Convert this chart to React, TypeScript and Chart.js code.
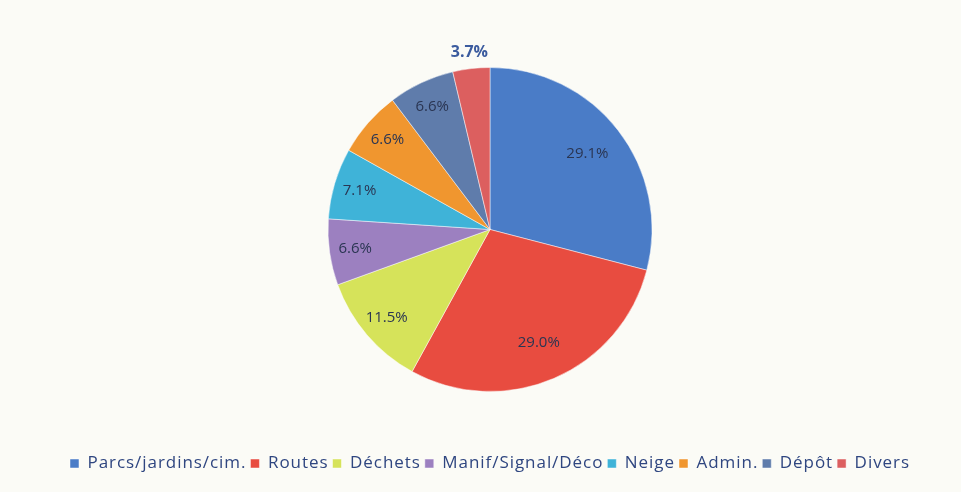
import React, { useEffect, useRef } from "react";
import { Chart, registerables } from "chart.js";

Chart.register(...registerables);

const categories = ["Parcs/jardins/cim.", "Routes", "Déchets", "Manif/Signal/Déco", "Neige", "Admin.", "Dépôt", "Divers"];
const values = [29.1, 29.0, 11.5, 6.6, 7.1, 6.6, 6.6, 3.7];
const valueLabels = ["29.1%", "29.0%", "11.5%", "6.6%", "7.1%", "6.6%", "6.6%", "3.7%"];
const colors = ["#4a7cc7", "#e84c40", "#d6e35a", "#9c80c0", "#3fb3d8", "#f0962f", "#5f7cab", "#dc5f5f"];

const LS = "0.95px";

const spacingPlugin = {
  id: "spacing",
  beforeUpdate(chart: any) {
    (chart.ctx as any).letterSpacing = LS;
  },
  beforeDraw(chart: any) {
    (chart.ctx as any).letterSpacing = LS;
  },
  beforeDatasetsDraw(chart: any) {
    (chart.ctx as any).letterSpacing = "0px";
  },
};

const labelPlugin = {
  id: "sliceLabels",
  afterDatasetsDraw(chart: any) {
    const ctx = chart.ctx;
    const meta = chart.getDatasetMeta(0);
    ctx.save();
    ctx.letterSpacing = "0px";
    ctx.textAlign = "center";
    ctx.textBaseline = "middle";
    meta.data.forEach((arc: any, i: number) => {
      const p = arc.getProps(["x", "y", "startAngle", "endAngle", "outerRadius"], true);
      const mid = (p.startAngle + p.endAngle) / 2;
      const v = values[i];
      let frac = v > 20 ? 0.76 : 0.84;
      const outside = v < 5;
      if (outside) frac = 1.1;
      const r = p.outerRadius * frac;
      const x = p.x + Math.cos(mid) * r;
      const y = p.y + Math.sin(mid) * r;
      if (outside) {
        ctx.font = "bold 16px 'Open Sans', sans-serif";
        ctx.fillStyle = "#3b5b9e";
      } else {
        ctx.font = "15px 'Open Sans', sans-serif";
        ctx.fillStyle = "#2a3552";
      }
      ctx.fillText(valueLabels[i], x, y);
    });
    ctx.restore();
    (chart.ctx as any).letterSpacing = LS;
  },
};

export default function App() {
  const ref = useRef<HTMLCanvasElement>(null);
  useEffect(() => {
    document.body.style.background = "#fbfbf6";
    const chart = new Chart(ref.current!, {
      type: "pie",
      data: {
        labels: categories,
        datasets: [
          {
            data: values,
            backgroundColor: colors,
            borderColor: "rgba(255,255,255,0.6)",
            borderWidth: 0.8,
            radius: 162,
          } as any,
        ],
      },
      options: {
        animation: false,
        responsive: false,
        layout: { padding: { top: 0, bottom: 2, left: 19, right: 0 } },
        plugins: {
          tooltip: { enabled: false },
          legend: {
            position: "bottom",
            labels: {
              boxWidth: 9,
              boxHeight: 9,
              padding: 4,
              color: "#2f4680",
              font: { family: "'Open Sans', sans-serif", size: 17 },
            },
          },
        },
      },
      plugins: [spacingPlugin, labelPlugin],
    });
    return () => chart.destroy();
  }, []);
  return <canvas ref={ref} width={945} height={476} style={{ display: "block" }} />;
}
